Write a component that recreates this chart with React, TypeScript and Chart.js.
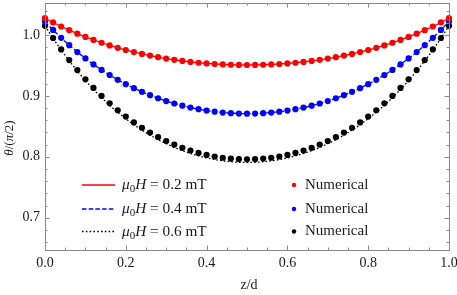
import React, { useEffect, useRef } from 'react';
import { Chart, registerables } from 'chart.js';

Chart.register(...registerables);

// ---- data ----
const zValues = [
  0, 0.02, 0.04, 0.06, 0.08, 0.1, 0.12, 0.14, 0.16, 0.18, 0.2, 0.22, 0.24, 0.26, 0.28, 0.3, 0.32, 0.34, 0.36, 0.38, 0.4,
  0.42, 0.44, 0.46, 0.48, 0.5, 0.52, 0.54, 0.56, 0.58, 0.6, 0.62, 0.64, 0.66, 0.68, 0.7, 0.72, 0.74, 0.76, 0.78, 0.8,
  0.82, 0.84, 0.86, 0.88, 0.9, 0.92, 0.94, 0.96, 0.98, 1.0,
];

const redValues = [
  1.0275, 1.0205, 1.0139, 1.0078, 1.0021, 0.9967, 0.9918, 0.9872, 0.9829, 0.9789, 0.9753, 0.9719, 0.9689, 0.9661, 0.9635,
  0.9612, 0.9592, 0.9574, 0.9558, 0.9544, 0.9533, 0.9523, 0.9516, 0.9511, 0.9508, 0.9507, 0.9508, 0.9511, 0.9516, 0.9523,
  0.9533, 0.9544, 0.9558, 0.9574, 0.9592, 0.9612, 0.9635, 0.9661, 0.9689, 0.9719, 0.9753, 0.9789, 0.9829, 0.9872, 0.9918,
  0.9967, 1.0021, 1.0078, 1.0139, 1.0205, 1.0275,
];

const blueValues = [
  1.022, 1.0082, 0.9953, 0.9832, 0.9719, 0.9614, 0.9517, 0.9426, 0.9342, 0.9264, 0.9192, 0.9126, 0.9066, 0.9011, 0.8961,
  0.8915, 0.8875, 0.8839, 0.8808, 0.8781, 0.8759, 0.874, 0.8726, 0.8716, 0.871, 0.8708, 0.871, 0.8716, 0.8726, 0.874,
  0.8759, 0.8781, 0.8808, 0.8839, 0.8875, 0.8915, 0.8961, 0.9011, 0.9066, 0.9126, 0.9192, 0.9264, 0.9342, 0.9426, 0.9517,
  0.9614, 0.9719, 0.9832, 0.9953, 1.0082, 1.022,
];

const blackValues = [
  1.015, 0.995, 0.9763, 0.9587, 0.9424, 0.9272, 0.913, 0.8999, 0.8877, 0.8764, 0.866, 0.8564, 0.8477, 0.8397, 0.8324,
  0.8259, 0.82, 0.8148, 0.8103, 0.8064, 0.8031, 0.8005, 0.7984, 0.797, 0.7961, 0.7958, 0.7961, 0.797, 0.7984, 0.8005,
  0.8031, 0.8064, 0.8103, 0.8148, 0.82, 0.8259, 0.8324, 0.8397, 0.8477, 0.8564, 0.866, 0.8764, 0.8877, 0.8999, 0.913,
  0.9272, 0.9424, 0.9587, 0.9763, 0.995, 1.015,
];

const blackLineValues = [
  1.015, 0.9945, 0.9754, 0.9574, 0.9407, 0.9251, 0.9106, 0.8972, 0.8847, 0.8731, 0.8625, 0.8526, 0.8437, 0.8355, 0.8281,
  0.8214, 0.8154, 0.8101, 0.8054, 0.8015, 0.7981, 0.7954, 0.7933, 0.7918, 0.7909, 0.7906, 0.7909, 0.7918, 0.7933, 0.7954,
  0.7981, 0.8015, 0.8054, 0.8101, 0.8154, 0.8214, 0.8281, 0.8355, 0.8437, 0.8526, 0.8625, 0.8731, 0.8847, 0.8972, 0.9106,
  0.9251, 0.9407, 0.9574, 0.9754, 0.9945, 1.015,
];

const fieldLabels = ['0.2', '0.4', '0.6'];
const numericalLabel = 'Numerical';
const xTickValues = [0, 0.2, 0.4, 0.6, 0.8, 1.0];
const xMinorTicks = [0.05, 0.1, 0.15, 0.25, 0.3, 0.35, 0.45, 0.5, 0.55, 0.65, 0.7, 0.75, 0.85, 0.9, 0.95];
const yTickValues = [0.7, 0.8, 0.9, 1.0];
const yMinorTicks = [0.66, 0.68, 0.72, 0.74, 0.76, 0.78, 0.82, 0.84, 0.86, 0.88, 0.92, 0.94, 0.96, 0.98, 1.02, 1.04];
const xTitle = 'z/d';

// ---- styling ----
const SERIF = '"Liberation Serif", "DejaVu Serif", serif';
const RED = '#ff0000';
const BLUE = '#0000ff';
const BLACK = '#000000';
const FRAME = '#8a8a8a';
const TEXT = '#1a1a1a';

type Seg = { t: string; it?: boolean; sub?: boolean };

function richWidth(ctx: CanvasRenderingContext2D, segs: Seg[], size: number) {
  let w = 0;
  for (const s of segs) {
    const fs = s.sub ? size * 0.72 : size;
    ctx.font = `${s.it ? 'italic ' : ''}${fs}px ${SERIF}`;
    w += ctx.measureText(s.t).width;
  }
  return w;
}

function drawRich(ctx: CanvasRenderingContext2D, segs: Seg[], x: number, y: number, size: number) {
  let cx = x;
  ctx.textAlign = 'left';
  ctx.textBaseline = 'middle';
  for (const s of segs) {
    const fs = s.sub ? size * 0.72 : size;
    ctx.font = `${s.it ? 'italic ' : ''}${fs}px ${SERIF}`;
    ctx.fillText(s.t, cx, s.sub ? y + size * 0.28 : y);
    cx += ctx.measureText(s.t).width;
  }
}

const decorPlugin = {
  id: 'decor',
  afterDatasetsDraw(chart: any) {
    const ctx: CanvasRenderingContext2D = chart.ctx;
    const { left, right, top, bottom } = chart.chartArea;
    const xs = chart.scales.x;
    const ys = chart.scales.y;
    ctx.save();
    ctx.strokeStyle = FRAME;
    ctx.lineWidth = 1;
    ctx.strokeRect(Math.round(left) + 0.5, Math.round(top) + 0.5, Math.round(right - left), Math.round(bottom - top));
    const tick = (x1: number, y1: number, x2: number, y2: number) => {
      ctx.beginPath();
      ctx.moveTo(x1, y1);
      ctx.lineTo(x2, y2);
      ctx.stroke();
    };
    const majL = 4.5;
    const minL = 2.5;
    for (const v of xTickValues) {
      const px = Math.round(xs.getPixelForValue(v)) + 0.5;
      tick(px, bottom, px, bottom - majL);
      tick(px, top, px, top + majL);
    }
    for (const v of xMinorTicks) {
      const px = Math.round(xs.getPixelForValue(v)) + 0.5;
      tick(px, bottom, px, bottom - minL);
      tick(px, top, px, top + minL);
    }
    for (const v of yTickValues) {
      const py = Math.round(ys.getPixelForValue(v)) + 0.5;
      tick(left, py, left + majL, py);
      tick(right, py, right - majL, py);
    }
    for (const v of yMinorTicks) {
      const py = Math.round(ys.getPixelForValue(v)) + 0.5;
      tick(left, py, left + minL, py);
      tick(right, py, right - minL, py);
    }
    ctx.restore();
  },
  afterDraw(chart: any) {
    const ctx: CanvasRenderingContext2D = chart.ctx;
    const { left, right } = chart.chartArea;
    ctx.save();
    ctx.fillStyle = TEXT;

    // x title
    ctx.font = `14px ${SERIF}`;
    ctx.textAlign = 'center';
    ctx.textBaseline = 'middle';
    ctx.fillText(xTitle, (left + right) / 2 + 2, 285);

    // y title (rotated)
    const ySegs: Seg[] = [{ t: 'θ', it: true }, { t: '/(' }, { t: 'π', it: true }, { t: '/2)' }];
    ctx.save();
    ctx.translate(10, 138);
    ctx.rotate(-Math.PI / 2);
    const yw = richWidth(ctx, ySegs, 13);
    drawRich(ctx, ySegs, -yw / 2, 0, 13);
    ctx.restore();

    // legends
    const colors = [RED, BLUE, BLACK];
    const dashes = [[], [4.5, 2.2], [1.6, 2.2]];
    const rows = [185, 209, 231.5];
    for (let i = 0; i < 3; i++) {
      const y = rows[i];
      ctx.strokeStyle = colors[i];
      ctx.lineWidth = 1.3;
      ctx.setLineDash(dashes[i]);
      ctx.beginPath();
      ctx.moveTo(82, y);
      ctx.lineTo(115, y);
      ctx.stroke();
      ctx.setLineDash([]);
      ctx.fillStyle = TEXT;
      drawRich(
        ctx,
        [{ t: 'μ', it: true }, { t: '0', sub: true }, { t: 'H', it: true }, { t: ` = ${fieldLabels[i]} mT` }],
        122,
        y,
        15.3
      );
      ctx.fillStyle = colors[i];
      ctx.beginPath();
      ctx.arc(294, y, 2.2, 0, Math.PI * 2);
      ctx.fill();
      ctx.fillStyle = TEXT;
      ctx.font = `15px ${SERIF}`;
      ctx.textAlign = 'left';
      ctx.textBaseline = 'middle';
      ctx.fillText(numericalLabel, 305, y);
    }
    ctx.restore();
  },
};

export default function App() {
  const ref = useRef<HTMLCanvasElement | null>(null);
  useEffect(() => {
    document.body.style.margin = '0';
    const canvas = ref.current;
    if (!canvas) return;
    const pts = (vals: number[]) => zValues.map((z, i) => ({ x: z, y: vals[i] }));
    const lineDs = (vals: number[], color: string, dash: number[]) => ({
      data: pts(vals),
      showLine: true,
      borderColor: color,
      borderWidth: 1.3,
      borderDash: dash,
      pointRadius: 0,
      fill: false,
      order: 2,
    });
    const dotDs = (vals: number[], color: string) => ({
      data: pts(vals),
      showLine: false,
      backgroundColor: color,
      borderWidth: 0,
      pointRadius: 3.1,
      pointHoverRadius: 3.1,
      clip: 4,
      order: 1,
    });
    const chart = new Chart(canvas, {
      type: 'scatter',
      data: {
        datasets: [
          lineDs(redValues, RED, []),
          lineDs(blueValues, BLUE, [4.5, 2.2]),
          lineDs(blackLineValues, BLACK, [1.6, 2.2]),
          dotDs(redValues, RED),
          dotDs(blueValues, BLUE),
          dotDs(blackValues, BLACK),
        ] as any,
      },
      options: {
        responsive: false,
        animation: false,
        devicePixelRatio: 1,
        layout: { padding: { top: 0, right: 8, left: 0, bottom: 0 } },
        plugins: { legend: { display: false }, tooltip: { enabled: false } },
        scales: {
          x: {
            type: 'linear',
            min: 0,
            max: 1,
            grid: { display: false, drawTicks: false },
            border: { display: false },
            afterBuildTicks: (s: any) => {
              s.ticks = xTickValues.map((v) => ({ value: v }));
            },
            afterFit: (s: any) => {
              s.height = 45;
              s.paddingLeft = 0;
              s.paddingRight = 0;
            },
            ticks: {
              padding: 5,
              color: TEXT,
              font: { family: SERIF, size: 14 },
              maxRotation: 0,
              autoSkip: false,
              callback: (v: any) => Number(v).toFixed(1),
            },
          },
          y: {
            type: 'linear',
            min: 0.647,
            max: 1.0523,
            grid: { display: false, drawTicks: false },
            border: { display: false },
            afterBuildTicks: (s: any) => {
              s.ticks = yTickValues.map((v) => ({ value: v }));
            },
            afterFit: (s: any) => {
              s.width = 45;
              s.paddingTop = 0;
              s.paddingBottom = 0;
            },
            ticks: {
              padding: 5,
              color: TEXT,
              font: { family: SERIF, size: 14 },
              autoSkip: false,
              callback: (v: any) => Number(v).toFixed(1),
            },
          },
        },
      },
      plugins: [decorPlugin],
    });
    return () => chart.destroy();
  }, []);
  return (
    <div style={{ width: 457, height: 295, background: '#fff' }}>
      <canvas ref={ref} width={457} height={295} style={{ display: 'block' }} />
    </div>
  );
}
